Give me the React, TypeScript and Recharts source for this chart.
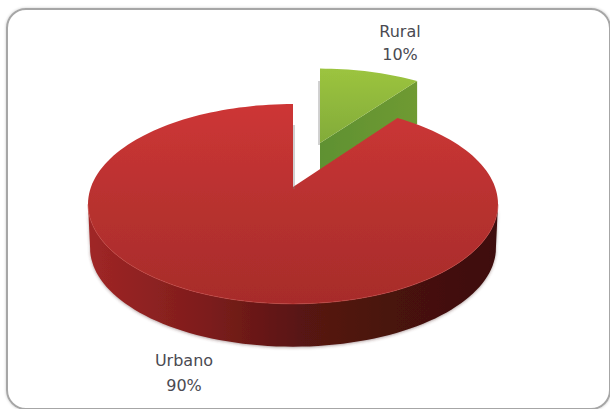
/**
 * Exploded 3D-look pie (Rural / Urbano). Recharts works out the angles,
 * the custom shape projects each sector onto a tilted disc.
 */
import { PieChart, Pie } from "recharts";

const categories = ["Rural", "Urbano"];
const shares = [10, 90];

const chartData = categories.map((name, i) => ({ name, value: shares[i] }));

// Projection of each exploded slice: vertex, radii and how deep the disc is
const PERSPECTIVE = 0.17;
const discs: Record<string, any> = {
  Rural: { x: 320, y: 143, rx: 188, ry: 87, depth: 43, top: "url(#ruralTop)", side: "url(#ruralSide)" },
  Urbano: { x: 293, y: 187, rx: 202, ry: 97, depth: 44, top: "url(#urbanoTop)", side: "url(#urbanoSide)" },
};
const labelSpots: Record<string, { x: number; y: number; gap: number }> = {
  Rural: { x: 400, y: 37, gap: 23 },
  Urbano: { x: 184, y: 366, gap: 25 },
};

const project = (d: any, deg: number, drop = 0, scale = 1) => {
  const t = (deg * Math.PI) / 180;
  const w = 1 + PERSPECTIVE * Math.cos(t);
  return [
    d.x + (scale * d.rx * Math.sin(t)) / w,
    d.y + drop - (scale * d.ry * Math.cos(t)) / w,
  ];
};

const toPath = (pts: number[][]) =>
  "M" + pts.map((p) => `${p[0].toFixed(1)},${p[1].toFixed(1)}`).join("L") + "Z";

function arcSamples(d: any, from: number, to: number, drop = 0, scale = 1) {
  const pts: number[][] = [];
  const n = Math.max(2, Math.ceil(Math.abs(to - from) / 2));
  for (let i = 0; i <= n; i++) pts.push(project(d, from + ((to - from) * i) / n, drop, scale));
  return pts;
}

function Slice3D(props: any) {
  const d = discs[props.name];
  // recharts angles run counter-clockwise from east, ours clockwise from north
  const from = 90 - props.startAngle;
  const to = 90 - props.endAngle;
  const faces: JSX.Element[] = [];

  // outer wall, only the part facing the viewer
  const wallFrom = Math.max(from, 100);
  const wallTo = Math.min(to, 260);
  const hasWall = wallTo > wallFrom;
  if (hasWall) {
    const upper = arcSamples(d, wallFrom, wallTo);
    const lower = arcSamples(d, wallTo, wallFrom, d.depth, 0.99);
    faces.push(
      <path key="wall" d={toPath([...upper, ...lower])} fill={d.side} filter="url(#softShadow)" />
    );
  }

  // cut face of the small slice
  if (to < 90) {
    const edge = project(d, to);
    faces.push(
      <path
        key="cut"
        d={toPath([[d.x, d.y], edge, [edge[0], edge[1] + d.depth], [d.x, d.y + d.depth]])}
        fill={d.side}
      />
    );
  }

  // thin grey line along the edge that runs straight up from the vertex
  const sliver = hasWall ? d.x + 1 : d.x - 1;
  return (
    <g filter="url(#soften)">
      {faces}
      <path d={toPath([[d.x, d.y], ...arcSamples(d, from, to)])} fill={d.top} />
      {hasWall && (
        <path
          d={"M" + arcSamples(d, wallFrom, wallTo).map((p) => p.join(",")).join("L")}
          fill="none"
          stroke="#c4453f"
          strokeOpacity={0.6}
        />
      )}
      <path
        d={`M${sliver},${d.y + 2}L${sliver},${d.y - 62}`}
        stroke="#7c7c7c"
        strokeOpacity={0.7}
        fill="none"
      />
    </g>
  );
}

function SliceLabel(props: any) {
  const spot = labelSpots[props.name];
  return (
    <text
      x={spot.x}
      y={spot.y}
      textAnchor="middle"
      fontFamily="DejaVu Sans"
      fontSize={16}
      fill="#4a4a52"
    >
      <tspan x={spot.x}>{props.name}</tspan>
      <tspan x={spot.x} dy={spot.gap}>{`${Math.round(props.percent * 100)}%`}</tspan>
    </text>
  );
}

export default function App() {
  return (
    <div style={{ position: "absolute", left: 0, top: 0, width: 610, height: 409, overflow: "hidden", background: "#fff" }}>
      <div
        style={{
          position: "absolute",
          left: 6,
          top: 8,
          width: 601,
          height: 398,
          border: "2px solid #a6a6a6",
          borderRadius: 20,
          boxShadow: "0 0 3px #c8c8c8",
        }}
      />
      <div style={{ position: "absolute", left: 0, top: 0 }}>
        <PieChart width={610} height={409} margin={{ top: 0, right: 0, bottom: 0, left: 0 }}>
          <defs>
            <linearGradient id="urbanoTop" x1="0" y1="0" x2="0" y2="1">
              <stop offset="0" stopColor="#cd3636" />
              <stop offset="0.5" stopColor="#b8312f" />
              <stop offset="1" stopColor="#a72c2b" />
            </linearGradient>
            <linearGradient id="urbanoSide" x1="0" y1="0" x2="1" y2="0">
              <stop offset="0" stopColor="#a02626" />
              <stop offset="0.28" stopColor="#7e1d1c" />
              <stop offset="0.52" stopColor="#581512" />
              <stop offset="0.75" stopColor="#48120e" />
              <stop offset="1" stopColor="#3e0f0c" />
            </linearGradient>
            <linearGradient id="ruralTop" x1="0" y1="0" x2="0" y2="1">
              <stop offset="0" stopColor="#9cc43f" />
              <stop offset="1" stopColor="#82ab39" />
            </linearGradient>
            <linearGradient id="ruralSide" x1="0" y1="0" x2="1" y2="0">
              <stop offset="0" stopColor="#5f9130" />
              <stop offset="1" stopColor="#6f9a30" />
            </linearGradient>
            <filter id="soften" x="-5%" y="-5%" width="110%" height="110%">
              <feGaussianBlur stdDeviation="0.5" />
            </filter>
            <filter id="softShadow" x="-5%" y="-10%" width="110%" height="125%">
              <feDropShadow dx="0" dy="1" stdDeviation="1.5" floodColor="#5a3030" floodOpacity="0.45" />
            </filter>
          </defs>
          <Pie
            data={chartData}
            dataKey="value"
            nameKey="name"
            cx={293}
            cy={187}
            outerRadius={150}
            startAngle={90}
            endAngle={-270}
            stroke="none"
            shape={Slice3D}
            activeShape={Slice3D}
            inactiveShape={Slice3D}
            label={SliceLabel}
            labelLine={false}
            isAnimationActive={false}
          />
        </PieChart>
      </div>
    </div>
  );
}
